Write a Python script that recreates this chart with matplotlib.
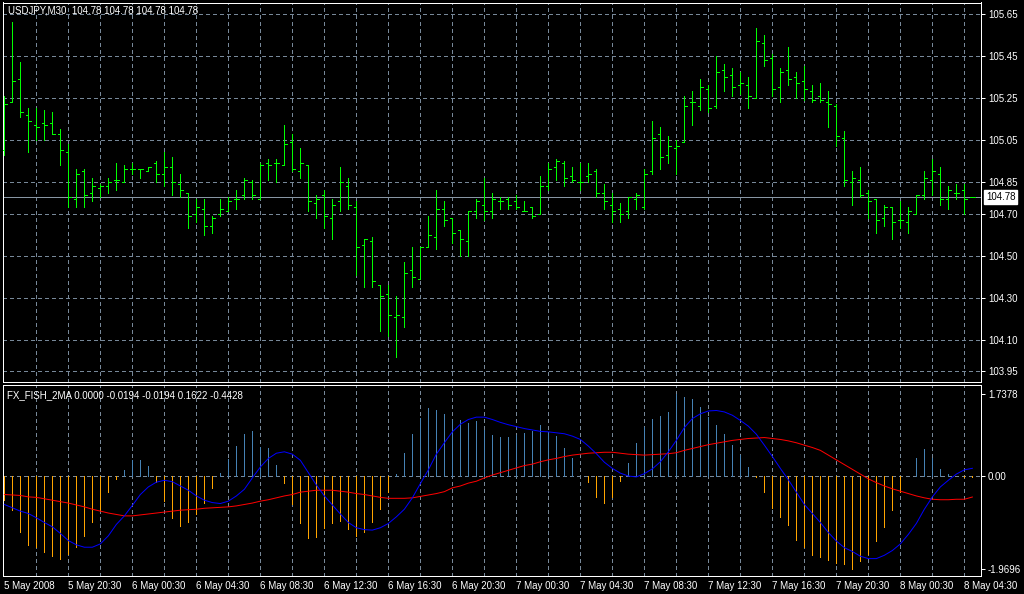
import numpy as np
import matplotlib
matplotlib.use("Agg")
import matplotlib.pyplot as plt

# ---------------- data ----------------
symbol_title = "USDJPY,M30  104.78 104.78 104.78 104.78"
ind_title = "FX_FISH_2MA 0.0000 -0.0194 -0.0194 0.1622 -0.4428"

opens = [105.00, 105.23, 105.34, 105.17, 105.12, 105.13, 105.13, 105.08, 104.99, 104.77,
         104.90, 104.80, 104.82, 104.83, 104.86, 104.85, 104.91, 104.91, 104.90, 104.94,
         104.89, 104.92, 104.84, 104.80, 104.70, 104.72, 104.64, 104.70, 104.71, 104.77,
         104.79, 104.85, 104.77, 104.94, 104.94, 104.93, 105.04, 104.90, 104.93, 104.75,
         104.79, 104.68, 104.76, 104.83, 104.73, 104.55, 104.57, 104.36, 104.32, 104.21,
         104.21, 104.43, 104.39, 104.54, 104.59, 104.72, 104.68, 104.62, 104.57, 104.71,
         104.74, 104.71, 104.76, 104.77, 104.76, 104.71, 104.73, 104.70, 104.83, 104.92,
         104.94, 104.88, 104.85, 104.88, 104.90, 104.80, 104.74, 104.72, 104.71, 104.77,
         104.73, 104.90, 105.08, 104.98, 105.01, 105.04, 105.23, 105.21, 105.29, 105.21,
         105.38, 105.36, 105.31, 105.31, 105.25, 105.51, 105.44, 105.30, 105.38, 105.35,
         105.33, 105.28, 105.26, 105.23, 105.21, 105.06, 104.85, 104.86, 104.80, 104.77,
         104.68, 104.73, 104.67, 104.66, 104.70, 104.79, 104.86, 104.89, 104.77, 104.80,
         104.81, 104.78]
highs = [105.26, 105.61, 105.42, 105.20, 105.20, 105.19, 105.18, 105.10, 105.03, 104.91,
         104.91, 104.87, 104.84, 104.87, 104.94, 104.93, 104.94, 104.91, 104.92, 104.95,
         104.99, 104.97, 104.89, 104.80, 104.77, 104.77, 104.69, 104.77, 104.78, 104.81,
         104.87, 104.86, 104.94, 104.96, 104.96, 105.12, 105.08, 105.01, 104.93, 104.79,
         104.81, 104.77, 104.92, 104.87, 104.76, 104.58, 104.59, 104.36, 104.36, 104.31,
         104.47, 104.54, 104.54, 104.69, 104.81, 104.76, 104.68, 104.62, 104.71, 104.77,
         104.87, 104.80, 104.78, 104.78, 104.79, 104.76, 104.73, 104.88, 104.94, 104.96,
         104.95, 104.92, 104.94, 104.94, 104.91, 104.84, 104.80, 104.75, 104.78, 104.80,
         104.91, 105.14, 105.11, 105.07, 105.05, 105.26, 105.28, 105.34, 105.31, 105.45,
         105.41, 105.39, 105.37, 105.35, 105.58, 105.55, 105.46, 105.39, 105.49, 105.37,
         105.40, 105.31, 105.32, 105.28, 105.22, 105.09, 104.90, 104.92, 104.81, 104.77,
         104.74, 104.73, 104.76, 104.73, 104.79, 104.90, 104.96, 104.92, 104.83, 104.84,
         104.84, 104.78]
lows = [104.98, 105.23, 105.16, 104.99, 105.05, 105.05, 105.08, 104.93, 104.73, 104.73,
        104.73, 104.76, 104.78, 104.80, 104.81, 104.85, 104.89, 104.87, 104.90, 104.85,
        104.83, 104.79, 104.78, 104.63, 104.66, 104.60, 104.61, 104.69, 104.71, 104.72,
        104.77, 104.77, 104.77, 104.86, 104.85, 104.93, 104.90, 104.87, 104.71, 104.68,
        104.63, 104.58, 104.71, 104.72, 104.41, 104.35, 104.35, 104.14, 104.12, 104.02,
        104.16, 104.35, 104.39, 104.54, 104.53, 104.64, 104.56, 104.50, 104.50, 104.68,
        104.67, 104.68, 104.72, 104.72, 104.72, 104.71, 104.68, 104.70, 104.81, 104.86,
        104.83, 104.85, 104.81, 104.85, 104.78, 104.72, 104.66, 104.66, 104.68, 104.72,
        104.72, 104.89, 104.91, 104.94, 104.89, 105.04, 105.12, 105.19, 105.18, 105.20,
        105.28, 105.26, 105.27, 105.20, 105.25, 105.40, 105.26, 105.23, 105.31, 105.25,
        105.24, 105.23, 105.23, 105.11, 105.02, 104.83, 104.74, 104.78, 104.68, 104.61,
        104.64, 104.58, 104.63, 104.61, 104.70, 104.77, 104.79, 104.74, 104.72, 104.77,
        104.70, 104.78]
closes = [105.22, 105.33, 105.18, 105.14, 105.11, 105.12, 105.08, 105.00, 104.78, 104.89,
          104.79, 104.83, 104.83, 104.85, 104.86, 104.91, 104.91, 104.91, 104.92, 104.89,
          104.92, 104.85, 104.81, 104.69, 104.73, 104.64, 104.68, 104.72, 104.76, 104.77,
          104.86, 104.79, 104.93, 104.93, 104.94, 105.03, 104.91, 104.94, 104.76, 104.77,
          104.69, 104.74, 104.85, 104.74, 104.54, 104.58, 104.38, 104.31, 104.22, 104.22,
          104.42, 104.40, 104.54, 104.60, 104.72, 104.67, 104.61, 104.58, 104.71, 104.76,
          104.71, 104.77, 104.76, 104.74, 104.73, 104.71, 104.69, 104.83, 104.91, 104.95,
          104.87, 104.86, 104.85, 104.89, 104.80, 104.76, 104.71, 104.70, 104.78, 104.79,
          104.89, 105.06, 104.97, 105.02, 105.02, 105.21, 105.23, 105.30, 105.20, 105.37,
          105.35, 105.30, 105.32, 105.26, 105.52, 105.43, 105.29, 105.37, 105.34, 105.32,
          105.29, 105.24, 105.24, 105.22, 105.07, 104.86, 104.87, 104.79, 104.76, 104.67,
          104.73, 104.66, 104.67, 104.71, 104.79, 104.87, 104.90, 104.77, 104.81, 104.80,
          104.77, 104.78]
last_price = 104.78

fish_hist = [-0.51, -0.71, -1.19, -1.45, -1.49, -1.60, -1.68, -1.74, -1.64, -1.50,
             -1.26, -0.96, -0.71, -0.33, -0.06, 0.13, 0.33, 0.34, 0.21, -0.12,
             -0.52, -0.88, -1.05, -0.97, -0.79, -0.57, -0.25, 0.06, 0.35, 0.63,
             0.89, 0.95, 0.61, 0.60, 0.23, -0.14, -0.58, -1.00, -1.30, -1.28,
             -1.09, -0.98, -0.95, -1.12, -1.26, -1.19, -0.96, -0.69, -0.33, 0.04,
             0.49, 0.88, 1.23, 1.44, 1.39, 1.30, 1.18, 1.18, 1.12, 1.16,
             0.97, 0.86, 0.82, 0.82, 0.86, 0.90, 0.95, 1.07, 0.93, 0.84,
             0.60, 0.37, 0.00, -0.12, -0.44, -0.56, -0.44, -0.11, 0.28, 0.70,
             1.03, 1.21, 1.26, 1.35, 1.7378, 1.66, 1.62, 1.45, 1.24, 1.07,
             0.89, 0.65, 0.44, 0.19, -0.02, -0.33, -0.67, -0.86, -1.03, -1.35,
             -1.49, -1.66, -1.71, -1.76, -1.83, -1.86, -1.9696, -1.79, -1.65, -1.37,
             -1.07, -0.72, -0.33, 0.00, 0.37, 0.56, 0.37, 0.15, 0.04, 0.01,
             -0.02, -0.0194]
fish_ma_fast = [-0.60, -0.67, -0.74, -0.79, -0.88, -0.98, -1.07, -1.21, -1.36, -1.45,
                -1.50, -1.50, -1.43, -1.26, -1.02, -0.84, -0.62, -0.39, -0.23, -0.13,
                -0.09, -0.12, -0.21, -0.30, -0.42, -0.51, -0.56, -0.58, -0.53, -0.42,
                -0.28, -0.04, 0.19, 0.37, 0.48, 0.51, 0.46, 0.33, 0.07, -0.19,
                -0.42, -0.61, -0.80, -0.98, -1.09, -1.13, -1.14, -1.09, -1.00, -0.86,
                -0.70, -0.46, -0.16, 0.13, 0.46, 0.70, 0.93, 1.09, 1.19, 1.24,
                1.24, 1.19, 1.13, 1.08, 1.04, 1.00, 0.97, 0.94, 0.93, 0.91,
                0.89, 0.84, 0.77, 0.63, 0.47, 0.29, 0.16, 0.06, 0.00, -0.02,
                0.05, 0.15, 0.30, 0.51, 0.75, 1.02, 1.21, 1.31, 1.37, 1.38,
                1.35, 1.28, 1.17, 1.05, 0.88, 0.65, 0.41, 0.16, -0.08, -0.34,
                -0.60, -0.79, -0.98, -1.19, -1.37, -1.51, -1.59, -1.69, -1.74, -1.74,
                -1.67, -1.57, -1.43, -1.23, -1.00, -0.70, -0.44, -0.23, -0.09, 0.04,
                0.13, 0.1622]
fish_ma_slow = [-0.39, -0.40, -0.41, -0.44, -0.45, -0.48, -0.51, -0.54, -0.57, -0.61,
                -0.65, -0.70, -0.74, -0.78, -0.81, -0.84, -0.84, -0.82, -0.80, -0.78,
                -0.76, -0.74, -0.72, -0.71, -0.70, -0.68, -0.67, -0.66, -0.65, -0.63,
                -0.60, -0.57, -0.53, -0.50, -0.46, -0.42, -0.39, -0.34, -0.32, -0.30,
                -0.30, -0.30, -0.32, -0.34, -0.37, -0.39, -0.42, -0.45, -0.47, -0.47,
                -0.47, -0.46, -0.43, -0.40, -0.37, -0.33, -0.25, -0.21, -0.15, -0.11,
                -0.04, 0.02, 0.07, 0.12, 0.17, 0.22, 0.25, 0.30, 0.34, 0.37,
                0.41, 0.44, 0.46, 0.48, 0.49, 0.50, 0.50, 0.48, 0.46, 0.45,
                0.44, 0.45, 0.46, 0.47, 0.49, 0.54, 0.58, 0.62, 0.66, 0.69,
                0.72, 0.75, 0.77, 0.79, 0.80, 0.81, 0.79, 0.77, 0.74, 0.70,
                0.65, 0.60, 0.54, 0.44, 0.34, 0.24, 0.14, 0.04, -0.06, -0.14,
                -0.21, -0.27, -0.32, -0.37, -0.42, -0.46, -0.49, -0.50, -0.50, -0.49,
                -0.49, -0.4428]

price_ticks = [105.65, 105.45, 105.25, 105.05, 104.85, 104.70, 104.50, 104.30, 104.10, 103.95]
ind_ticks = [1.7378, 0.0, -1.9696]
ind_tick_labels = ["1.7378", "0.00", "-1.9696"]
date_labels = ["5 May 2008", "5 May 20:30", "6 May 00:30", "6 May 04:30", "6 May 08:30",
               "6 May 12:30", "6 May 16:30", "6 May 20:30", "7 May 00:30", "7 May 04:30",
               "7 May 08:30", "7 May 12:30", "7 May 16:30", "7 May 20:30", "8 May 00:30",
               "8 May 04:30"]

# ---------------- style ----------------
W, H = 1024, 594
PX = 0.72  # one pixel in points
FS = 7
GRID = "#778899"
DASH = (0, (4, 3))
BAR = "#00FF00"
plt.rcParams["font.family"] = ["Liberation Sans", "DejaVu Sans"]

fig = plt.figure(figsize=(W / 100, H / 100), dpi=100, facecolor="black")


def rect(x0, y0, x1, y1):
    return [x0 / W, 1 - y1 / H, (x1 - x0) / W, (y1 - y0) / H]


ax1 = fig.add_axes(rect(3, 2.5, 981, 381.5))
ax2 = fig.add_axes(rect(3, 384.5, 981, 575.5))

n = len(closes)
xs = np.arange(n)
xlim = (-0.17, 122.08)

for ax in (ax1, ax2):
    ax.set_facecolor("black")
    ax.set_xlim(*xlim)
    for s in ax.spines.values():
        s.set_color("white")
        s.set_linewidth(PX)
    ax.yaxis.tick_right()
    ax.tick_params(axis="y", colors="white", labelcolor="white", labelsize=FS,
                   length=3, width=PX, pad=2, direction="out")
    for gx in range(4, n, 4):
        ax.axvline(gx, color=GRID, lw=PX, ls=DASH, zorder=0, antialiased=False)

# ---------- price panel ----------
ax1.set_ylim(103.9024, 105.7024)
ax1.set_yticks(price_ticks)
ax1.set_yticklabels([f"{t:.2f}" for t in price_ticks])
ax1.set_xticks([])
for p in price_ticks:
    ax1.axhline(p, color=GRID, lw=PX, ls=DASH, zorder=0, antialiased=False)
ax1.axhline(last_price, color="#8896a4", lw=PX, zorder=1, antialiased=False)

ax1.vlines(xs, lows, highs, color=BAR, lw=PX, zorder=3, antialiased=False)
ax1.hlines(opens, xs - 0.33, xs, color=BAR, lw=PX, zorder=3, antialiased=False)
ax1.hlines(closes, xs, xs + 0.33, color=BAR, lw=PX, zorder=3, antialiased=False)

fig.text(8 / W, 1 - 10.5 / H, symbol_title, color="white", fontsize=FS, va="center", ha="left")

ypix = 2.5 + (105.7024 - last_price) / (105.7024 - 103.9024) * 379
fig.text(986 / W, 1 - ypix / H, f"{last_price:.2f}", color="black", fontsize=FS,
         va="center", ha="left",
         bbox=dict(boxstyle="square,pad=0.2", facecolor="white", edgecolor="white"))

# ---------- indicator panel ----------
ax2.set_ylim(-2.096, 1.9275)
ax2.set_yticks(ind_ticks)
ax2.set_yticklabels(ind_tick_labels)
ax2.axhline(0, color=GRID, lw=PX, ls=DASH, zorder=0, antialiased=False)

hist = np.array(fish_hist)
pos = hist > 0
neg = hist < 0
ax2.vlines(xs[pos], 0, hist[pos], color="#4682B4", lw=PX, zorder=2, antialiased=False)
ax2.vlines(xs[neg], 0, hist[neg], color="#FFA500", lw=PX, zorder=2, antialiased=False)
ax2.plot(xs, fish_ma_slow, color="#FF0000", lw=PX, zorder=3)
ax2.plot(xs, fish_ma_fast, color="#0000FF", lw=PX, zorder=4)

label_pos = list(range(0, n, 8))
ax2.set_xticks(label_pos)
ax2.set_xticklabels(date_labels)
ax2.tick_params(axis="x", colors="white", labelcolor="white", labelsize=FS,
                length=0, pad=4)
for lab in ax2.get_xticklabels():
    lab.set_horizontalalignment("left")

fig.text(7 / W, 1 - 395.5 / H, ind_title, color="white", fontsize=FS, va="center", ha="left")

fig.savefig("out.png", dpi=100, facecolor="black")
